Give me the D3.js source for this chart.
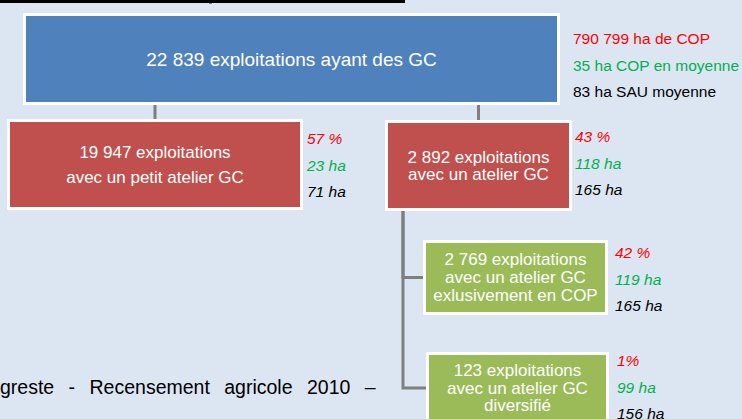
<!DOCTYPE html>
<html>
<head>
<meta charset="utf-8">
<script src="https://cdn.jsdelivr.net/npm/d3@7"></script>
<style>
  body { margin: 0; background: #dce6f2; overflow: hidden; }
  svg { display: block; font-family: "Liberation Sans", Arial, sans-serif; }
</style>
</head>
<body>
<div id="chart"></div>
<script>
// data
const nodeIds   = ["all", "petit", "atelier", "cop", "diversifie"];
const parentIds = [null, "all", "all", "atelier", "atelier"];
const counts    = [22839, 19947, 2892, 2769, 123];
const descLines = [
  ["exploitations ayant des GC"],
  ["exploitations", "avec un petit atelier GC"],
  ["exploitations", "avec un atelier GC"],
  ["exploitations", "avec un atelier GC", "exlusivement en COP"],
  ["exploitations", "avec un atelier GC", "diversifié"]
];
const shareText = ["790 799 ha de COP", "57 %", "43 %", "42 %", "1%"];
const copText   = ["35 ha COP en moyenne", "23 ha", "118 ha", "119 ha", "99 ha"];
const sauText   = ["83 ha SAU moyenne", "71 ha", "165 ha", "165 ha", "156 ha"];
const sourceText = "greste - Recensement agricole 2010 –";

// layout (positions of boxes, not data)
const layout = {
  all:        {x: 23,  y: 13,  w: 537, h: 92, fill: "#4f81bd", lh: 0,  fs: 19, noteY: 31, noteDx: 13},
  petit:      {x: 7,   y: 119, w: 296, h: 91, fill: "#c0504d", lh: 25, fs: 17, noteY: 25, noteDx: 4},
  atelier:    {x: 385, y: 120, w: 187, h: 91, fill: "#c0504d", lh: 17.3, fs: 17, noteY: 22, noteDx: 3},
  cop:        {x: 423, y: 240, w: 185, h: 75, fill: "#9bbb59", lh: 18, fs: 17, noteY: 18, noteDx: 7},
  diversifie: {x: 426, y: 352, w: 183, h: 72, fill: "#9bbb59", lh: 17.5, fs: 17, noteY: 14, noteDx: 8}
};
const noteStep = 26.7;
const elbowX = 403;

const width = 742, height = 419;
const fr = d3.formatLocale({decimal: ",", thousands: " ", grouping: [3], currency: ["", " €"]});
const fmt = fr.format(",d");

const rows = nodeIds.map((id, i) => ({
  id: id, parent: parentIds[i], count: counts[i], lines: descLines[i],
  share: shareText[i], cop: copText[i], sau: sauText[i]
}));
const root = d3.stratify().id(d => d.id).parentId(d => d.parent)(rows);
root.each(n => Object.assign(n, layout[n.id]));

const svg = d3.select("#chart").append("svg")
    .attr("width", width)
    .attr("height", height);

svg.append("rect").attr("width", width).attr("height", height).attr("fill", "#dce6f2");
svg.append("rect").attr("x", 0).attr("y", 0).attr("width", 405).attr("height", 3).attr("fill", "#000");
svg.append("rect").attr("x", 209).attr("y", 3).attr("width", 3).attr("height", 1).attr("fill", "#7f7f7f");

// connectors
const linkPath = l => {
  const s = l.source, t = l.target;
  if (s.depth === 0) {
    const cx = t.x + t.w / 2;
    return "M" + cx + "," + (s.y + s.h) + "V" + t.y;
  }
  const my = t.y + t.h / 2;
  return "M" + elbowX + "," + (s.y + s.h) + "V" + my + "H" + t.x;
};
svg.append("g")
  .selectAll("path")
  .data(root.links())
  .join("path")
    .attr("d", linkPath)
    .attr("fill", "none")
    .attr("stroke", "#7f7f7f")
    .attr("stroke-width", 3);

// boxes
const node = svg.append("g")
  .selectAll("g")
  .data(root.descendants())
  .join("g");

node.append("rect")
    .attr("x", d => d.x + 1.5)
    .attr("y", d => d.y + 1.5)
    .attr("width", d => d.w - 3)
    .attr("height", d => d.h - 3)
    .attr("fill", d => d.fill)
    .attr("stroke", "#fff")
    .attr("stroke-width", 3);

node.each(function(d) {
  const g = d3.select(this);
  const lines = d.data.lines.slice();
  lines[0] = fmt(d.data.count) + " " + lines[0];
  const cy = d.y + d.h / 2;
  const n = lines.length;
  g.append("text")
      .attr("text-anchor", "middle")
      .attr("fill", "#fff")
      .style("font-size", d.fs + "px")
    .selectAll("tspan")
    .data(lines)
    .join("tspan")
      .attr("x", d.x + d.w / 2)
      .attr("y", (l, i) => cy + (i - (n - 1) / 2) * d.lh + d.fs * 0.35)
      .text(l => l);

  const notes = [
    {t: d.data.share, c: "#ff0000"},
    {t: d.data.cop, c: "#00b050"},
    {t: d.data.sau, c: "#000"}
  ];
  g.selectAll("text.note")
    .data(notes)
    .join("text")
      .attr("class", "note")
      .attr("x", d.x + d.w + d.noteDx)
      .attr("y", (o, i) => d.y + d.noteY + i * noteStep)
      .attr("fill", o => o.c)
      .style("font-size", "15.5px")
      .style("font-style", d.depth === 0 ? "normal" : "italic")
      .text(o => o.t);
});

// source line
svg.append("text")
    .attr("x", 0)
    .attr("y", 394)
    .attr("fill", "#000")
    .style("font-size", "19.5px")
    .style("word-spacing", "9px")
    .text(sourceText);
</script>
</body>
</html>
